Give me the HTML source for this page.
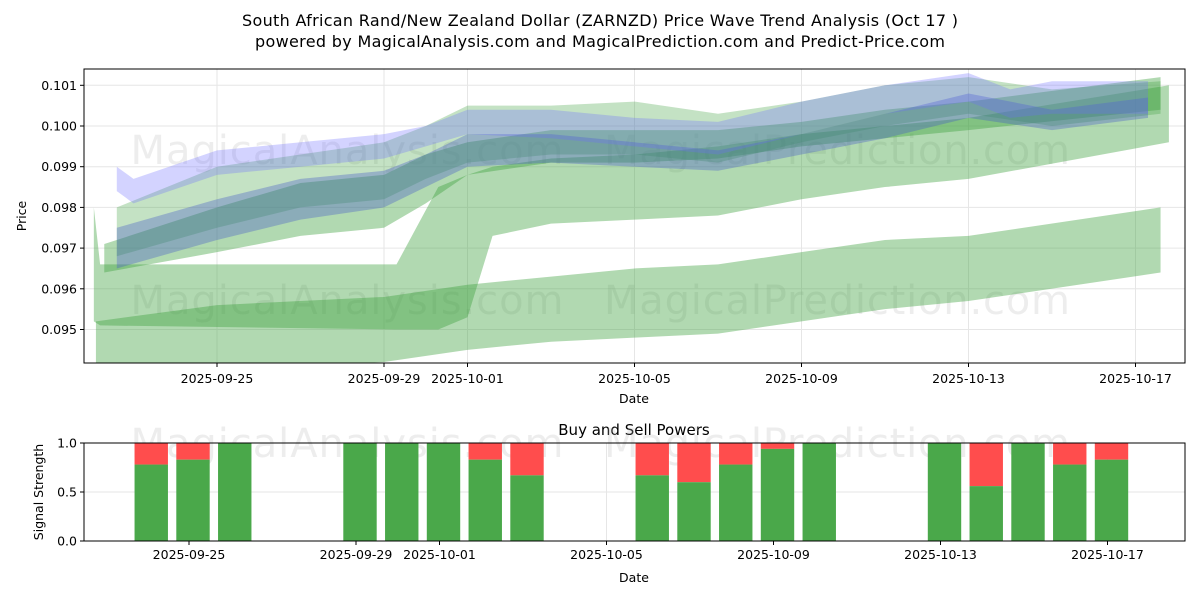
<!DOCTYPE html>
<html><head><meta charset="utf-8"><style>
body{margin:0;background:#fff;}
svg text{font-family:"DejaVu Sans","Liberation Sans",sans-serif;fill:#000;}
</style></head><body>
<svg id="c" width="1200" height="600" xmlns="http://www.w3.org/2000/svg">
<rect width="1200" height="600" fill="#fff"/>
<text x="600" y="26" font-size="16" text-anchor="middle" textLength="716">South African Rand/New Zealand Dollar (ZARNZD) Price Wave Trend Analysis (Oct 17 )</text>
<text x="600" y="47" font-size="16" text-anchor="middle" textLength="690">powered by MagicalAnalysis.com and MagicalPrediction.com and Predict-Price.com</text>
<g id="topPanel"></g>
<g id="botPanel"></g>
</svg>
<script>
const priceTicks=[0.095,0.096,0.097,0.098,0.099,0.100,0.101];
const dateTickDays=[0,4,6,10,14,18,22];
const dateTickLabels=["2025-09-25","2025-09-29","2025-10-01","2025-10-05","2025-10-09","2025-10-13","2025-10-17"];
const bandADays=[-2.9,0,4,6,8,10,12,14,16,18,22.6];
const bandATop=[0.0952,0.0956,0.0958,0.0961,0.0963,0.0965,0.0966,0.0969,0.0972,0.0973,0.0980];
const bandABot=[0.0936,0.0940,0.0942,0.0945,0.0947,0.0948,0.0949,0.0952,0.0955,0.0957,0.0964];
const bandBDays=[-2.95,-2.8,4.3,5.3,6,6.6,8,10,12,14,16,18,22.8];
const bandBTop=[0.0980,0.0966,0.0966,0.0985,0.0988,0.0990,0.0992,0.0993,0.0995,0.0998,0.1000,0.1002,0.1010];
const bandBBot=[0.0952,0.0951,0.0950,0.0950,0.0953,0.0973,0.0976,0.0977,0.0978,0.0982,0.0985,0.0987,0.0996];
const bandCDays=[-2.7,0,2,4,5,6,8,10,12,14,16,18,22.6];
const bandCTop=[0.0971,0.0980,0.0986,0.0988,0.0993,0.0996,0.0999,0.0999,0.0999,0.1001,0.1004,0.1006,0.1012];
const bandCBot=[0.0964,0.0969,0.0973,0.0975,0.0981,0.0988,0.0991,0.0991,0.0992,0.0995,0.0997,0.0999,0.1004];
const bandDDays=[-2.4,0,2,4,5,6,8,10,12,14,16,18,20,22.6];
const bandDTop=[0.0980,0.0990,0.0993,0.0996,0.1000,0.1005,0.1005,0.1006,0.1003,0.1006,0.1010,0.1012,0.1009,0.1011];
const bandDBot=[0.0968,0.0975,0.0980,0.0982,0.0987,0.0991,0.0993,0.0993,0.0991,0.0996,0.1000,0.1003,0.1000,0.1003];
const blue1Days=[-2.4,-2,0,2,4,5,6,8,10,12,14,16,18,19,20,22.3];
const blue1Top=[0.0990,0.0987,0.0994,0.0996,0.0998,0.1000,0.1004,0.1004,0.1002,0.1001,0.1006,0.1010,0.1013,0.1009,0.1011,0.1011];
const blue1Bot=[0.0984,0.0981,0.0988,0.0990,0.0992,0.0995,0.0998,0.0997,0.0995,0.0993,0.0998,0.1003,0.1006,0.1002,0.1003,0.1003];
const blue2Days=[-2.4,0,2,4,5,6,8,10,12,14,16,18,20,22.3];
const blue2Top=[0.0975,0.0982,0.0987,0.0989,0.0993,0.0998,0.0998,0.0996,0.0994,0.0998,0.1003,0.1008,0.1004,0.1007];
const blue2Bot=[0.0965,0.0972,0.0977,0.0980,0.0985,0.0990,0.0991,0.0990,0.0989,0.0993,0.0997,0.1002,0.0999,0.1002];
const barDays=[-1,0,1,4,5,6,7,8,11,12,13,14,15,18,19,20,21,22];
const buyValues=[0.78,0.83,1.0,1.0,1.0,1.0,0.83,0.67,0.67,0.6,0.78,0.94,1.0,1.0,0.56,1.0,0.78,0.83];
const sigTicks=[0,0.5,1.0];

const NS="http://www.w3.org/2000/svg";
const L=84,R=1185,T1=69,B1=363,T2=443,B2=541;
const xs=d=>217+d*41.75;
const xb=d=>189+d*41.75;
const ys=v=>126-(v-0.100)*40700;
const yb=v=>B2-v*98;
function mk(tag,attrs,parent,text){const e=document.createElementNS(NS,tag);for(const k in attrs)e.setAttribute(k,attrs[k]);if(text!==undefined)e.textContent=text;parent.appendChild(e);return e;}
const topG=document.getElementById('topPanel'),botG=document.getElementById('botPanel');
const defs=mk('defs',{},topG);
const cp=mk('clipPath',{id:'cp1'},defs);mk('rect',{x:L,y:T1,width:R-L,height:B1-T1},cp);
priceTicks.forEach(v=>{const g=mk('line',{x1:L,x2:R,y1:ys(v),y2:ys(v),stroke:'#e6e6e6'},topG);

});
dateTickDays.forEach(d=>{const g=mk('line',{x1:xs(d),x2:xs(d),y1:T1,y2:B1,stroke:'#e6e6e6'},topG);

});
[[347,150],[837,150],[347,300],[837,300]].forEach((p,i)=>{const t=mk('text',{x:p[0],y:p[1]+14,'font-size':40,'text-anchor':'middle',textLength:(i%2?466:433),style:'fill:#bbb;opacity:0.25'},topG,i%2?'MagicalPrediction.com':'MagicalAnalysis.com');

});
const bands=[
 [bandADays,bandATop,bandABot,'rgba(60,160,60,0.4)','band-a'],
 [bandBDays,bandBTop,bandBBot,'rgba(60,160,60,0.4)','band-b'],
 [bandCDays,bandCTop,bandCBot,'rgba(60,160,60,0.4)','band-c'],
 [bandDDays,bandDTop,bandDBot,'rgba(60,160,60,0.3)','band-d'],
 [blue2Days,blue2Top,blue2Bot,'rgba(70,90,200,0.35)','band-blue-lower'],
 [blue1Days,blue1Top,blue1Bot,'rgba(110,110,255,0.3)','band-blue-upper']];
const bg=mk('g',{'clip-path':'url(#cp1)'},topG);
bands.forEach(b=>{let pts=b[0].map((d,i)=>xs(d)+','+ys(b[1][i]));
for(let i=b[0].length-1;i>=0;i--)pts.push(xs(b[0][i])+','+ys(b[2][i]));
const p=mk('polygon',{points:pts.join(' '),fill:b[3]},bg);

});
mk('rect',{x:L,y:T1,width:R-L,height:B1-T1,fill:'none',stroke:'#000'},topG);
priceTicks.forEach(v=>{mk('line',{x1:L-4,x2:L,y1:ys(v),y2:ys(v),stroke:'#000'},topG);
const t=mk('text',{x:L-7,y:ys(v)+4.5,'font-size':12.5,'text-anchor':'end'},topG,v.toFixed(3));

});
dateTickDays.forEach((d,i)=>{mk('line',{x1:xs(d),x2:xs(d),y1:B1,y2:B1+4,stroke:'#000'},topG);
const t=mk('text',{x:xs(d),y:B1+20,'font-size':12.5,'text-anchor':'middle'},topG,dateTickLabels[i]);

});
mk('text',{x:634,y:403,'font-size':12.5,'text-anchor':'middle'},topG,'Date');
mk('text',{x:26,y:216,'font-size':12.5,'text-anchor':'middle',transform:'rotate(-90 26 216)'},topG,'Price');
mk('text',{x:634,y:435,'font-size':15,'text-anchor':'middle'},botG,'Buy and Sell Powers');
sigTicks.forEach(v=>{const g=mk('line',{x1:L,x2:R,y1:yb(v),y2:yb(v),stroke:'#e6e6e6'},botG);

});
dateTickDays.forEach(d=>mk('line',{x1:xb(d),x2:xb(d),y1:T2,y2:B2,stroke:'#e6e6e6'},botG));
[[347,443],[837,443]].forEach((p,i)=>{const t=mk('text',{x:p[0],y:p[1]+14,'font-size':40,'text-anchor':'middle',textLength:(i?466:433),style:'fill:#bbb;opacity:0.25'},botG,i?'MagicalPrediction.com':'MagicalAnalysis.com');

});
const bw=0.8*41.75;
barDays.forEach((d,i)=>{const v=buyValues[i];const cx=xb(d)+4;
const s=mk('rect',{x:cx-bw/2,y:yb(1),width:bw,height:yb(v)-yb(1),fill:'#ff4d4d'},botG);


const b=mk('rect',{x:cx-bw/2,y:yb(v),width:bw,height:yb(0)-yb(v),fill:'#4aa84a'},botG);

});
mk('rect',{x:L,y:T2,width:R-L,height:B2-T2,fill:'none',stroke:'#000'},botG);
sigTicks.forEach(v=>{mk('line',{x1:L-4,x2:L,y1:yb(v),y2:yb(v),stroke:'#000'},botG);
const t=mk('text',{x:L-7,y:yb(v)+4.5,'font-size':12.5,'text-anchor':'end'},botG,v.toFixed(1));

});
dateTickDays.forEach((d,i)=>{mk('line',{x1:xb(d),x2:xb(d),y1:B2,y2:B2+4,stroke:'#000'},botG);
const t=mk('text',{x:xb(d),y:B2+18,'font-size':12.5,'text-anchor':'middle'},botG,dateTickLabels[i]);

});
mk('text',{x:634,y:582,'font-size':12.5,'text-anchor':'middle'},botG,'Date');
mk('text',{x:43,y:492,'font-size':12.5,'text-anchor':'middle',transform:'rotate(-90 43 492)'},botG,'Signal Strength');
</script>
</body></html>
